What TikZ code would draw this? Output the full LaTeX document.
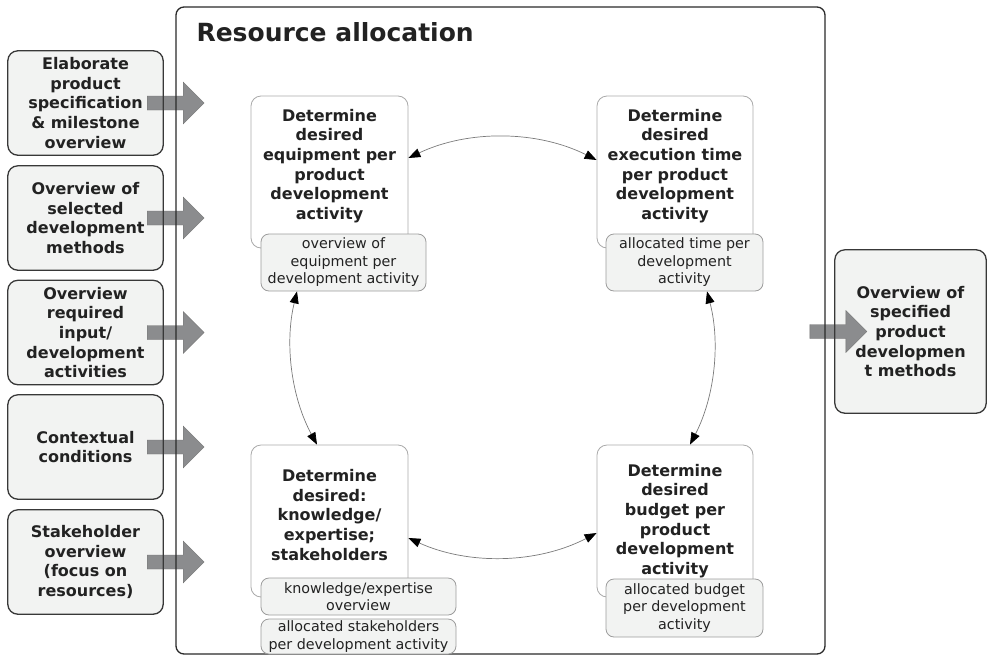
\documentclass[tikz,border=0pt]{standalone}
\usepackage{fontspec}
\setmainfont{DejaVu Sans}
\usetikzlibrary{arrows.meta}

\definecolor{boxfill}{HTML}{F2F3F2}
\definecolor{ink}{HTML}{222222}
\definecolor{frameline}{HTML}{2A2A2A}
\definecolor{inline}{HTML}{383838}
\definecolor{procline}{HTML}{AAAAAA}
\definecolor{labline}{HTML}{9C9C9C}
\definecolor{blockgray}{HTML}{8B8C8E}
\definecolor{blockedge}{HTML}{737373}
\definecolor{cycleline}{HTML}{7A7A7A}

% gray block arrow: shaft 36 long, 14 high; head 21 long, 42 high
\newcommand\blockarrowat[1]{%
  \filldraw[blockarrow] (#1) ++(0,-7) -- ++(36,0) -- ++(0,-14) -- ++(21,21)
    -- ++(-21,21) -- ++(0,-14) -- ++(-36,0) -- cycle;}

\begin{document}
\begin{tikzpicture}[x=1pt,y=-1pt,
  boldtext/.style={font=\fontsize{16}{19.7}\selectfont\bfseries, text=ink, align=center},
  smalltext/.style={font=\fontsize{14.3}{17.5}\selectfont, text=ink, align=center},
  iobox/.style={rectangle, rounded corners=10pt, fill=boxfill, inner sep=0pt, boldtext},
  inbox/.style={iobox, minimum width=155pt, minimum height=104pt},
  ioborder/.style={draw=inline, line width=1.3pt, rounded corners=10pt},
  frame/.style={rectangle, draw=frameline, line width=1.3pt, rounded corners=8pt,
    minimum width=649pt, minimum height=647pt, inner sep=0pt},
  procbox/.style={rectangle, draw=procline, line width=0.8pt, fill=white,
    rounded corners=10pt, minimum width=157pt, minimum height=152pt, inner sep=0pt},
  outlabel/.style={rectangle, draw=labline, line width=0.8pt, fill=boxfill,
    rounded corners=8pt, inner sep=0pt, smalltext},
  blockarrow/.style={fill=blockgray, draw=blockedge, line width=0.4pt},
  tip/.style={Triangle[length=12pt, width=9pt, color=black]},
  cyc/.style={draw=cycleline, line width=0.7pt, {Triangle[length=12pt, width=9pt, color=black]}-{Triangle[length=12pt, width=9pt, color=black]}},
]
\useasboundingbox (0,0) rectangle (988,656);

% inputs on the left
\node[inbox] (in1) at (85.5,103) {Elaborate\\product\\specification\\\& milestone\\overview};
\node[inbox] (in2) at (85.5,218) {Overview of\\selected\\development\\methods};
\node[inbox] (in3) at (85.5,332.5) {Overview\\required\\input/\\development\\activities};
\node[inbox] (in4) at (85.5,447) {Contextual\\conditions};
\node[inbox] (in5) at (85.5,562) {Stakeholder\\overview\\(focus on\\resources)};

% result on the right
\node[iobox, minimum width=151pt, minimum height=163pt] (out) at (910.5,331.5)
  {Overview of\\specified\\product\\developmen\\t methods};

% block arrows into and out of the process
\blockarrowat{[xshift=-16pt]in1.east}
\blockarrowat{[xshift=-16pt]in2.east}
\blockarrowat{[xshift=-16pt]in3.east}
\blockarrowat{[xshift=-16pt]in4.east}
\blockarrowat{[xshift=-16pt]in5.east}
\blockarrowat{[xshift=-25pt]out.west}

% borders over the arrows
\foreach \b in {in1,in2,in3,in4,in5,out}
  \draw[ioborder] (\b.north west) rectangle (\b.south east);

% process frame and title
\node[frame] (alloc) at (500.5,330.5) {};
\node[font=\fontsize{25}{30}\selectfont\bfseries, text=ink, anchor=base west] (title)
  at (193,41) {Resource allocation};

% four determination steps
\node[procbox] (tl) at (329.5,172) {};
\node[procbox, minimum width=156pt] (tr) at (675,172) {};
\node[procbox] (bl) at (329.5,521) {};
\node[procbox, minimum width=156pt] (br) at (675,521) {};

\node[boldtext] (tl-text) at (329.5,166) {Determine\\desired\\equipment per\\product\\development\\activity};
\node[boldtext] (tr-text) at (675,166) {Determine\\desired\\execution time\\per product\\development\\activity};
\node[boldtext] (bl-text) at (329.5,515) {Determine\\desired:\\knowledge/\\expertise;\\stakeholders};
\node[boldtext] (br-text) at (675,521) {Determine\\desired\\budget per\\product\\development\\activity};

% outputs of each step
\node[outlabel, minimum width=165pt, minimum height=57pt] (tl-out) at (343.5,262.5)
  {overview of\\equipment per\\development activity};
\node[outlabel, minimum width=157pt, minimum height=57pt] (tr-out) at (684.5,262.5)
  {allocated time per\\development\\activity};
\node[outlabel, minimum width=195pt, minimum height=37pt] (bl-out1) at (358.5,596.5)
  {knowledge/expertise\\overview};
\node[outlabel, minimum width=195pt, minimum height=35pt] (bl-out2) at (358.5,636.5)
  {allocated stakeholders\\per development activity};
\node[outlabel, minimum width=157pt, minimum height=58pt] (br-out) at (684.5,608)
  {allocated budget\\per development\\activity};

% iteration cycle between the steps
\draw[cyc] ([yshift=14pt]tl.east) to[bend left=26, looseness=0.9] ([yshift=12pt]tr.west);
\draw[cyc] ([xshift=22.5pt]tr-out.south) to[bend left=21, looseness=0.89] ([xshift=15pt]br.north);
\draw[cyc] ([yshift=-12pt]br.west) to[bend left=26, looseness=0.9] ([yshift=-17pt]bl.east);
\draw[cyc] ([xshift=-12.5pt]bl.north) to[bend left=21, looseness=0.89] ([xshift=-46.5pt]tl-out.south);
\end{tikzpicture}
\end{document}
